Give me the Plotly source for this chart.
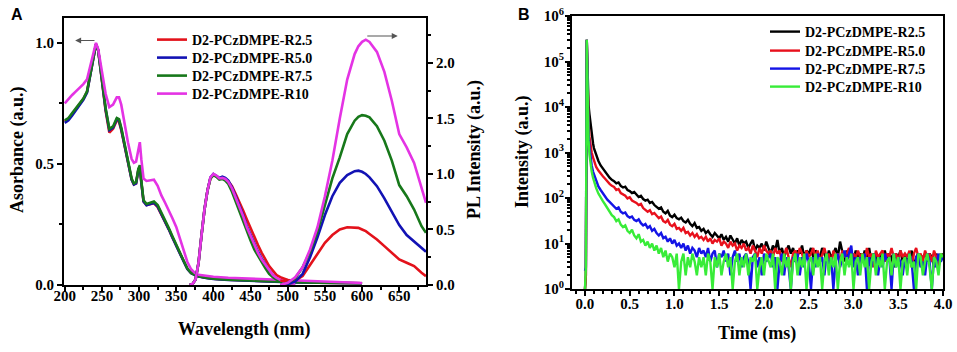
import plotly.graph_objects as go

# ---------------- Panel A data ----------------
labels = ["D2-PCzDMPE-R2.5", "D2-PCzDMPE-R5.0", "D2-PCzDMPE-R7.5", "D2-PCzDMPE-R10"]

abs_wl = [200, 205, 210, 215, 220, 225, 230, 235, 240,
          242, 245, 250, 255, 260, 265, 270,
          273, 276, 280, 285, 290,
          293, 296, 299, 301, 303, 306, 310,
          315, 320, 325, 330, 335, 340, 345, 350, 355, 360, 365, 370, 375, 380,
          390, 400, 420, 450, 480, 510, 540, 570, 600]
abs_r25 = [0.675, 0.685, 0.705, 0.725, 0.748, 0.768, 0.798, 0.878, 0.97,
           0.995, 0.97, 0.845, 0.72, 0.63, 0.645, 0.68,
           0.675, 0.64, 0.58, 0.51, 0.435,
           0.415, 0.42, 0.475, 0.49, 0.425, 0.345, 0.33,
           0.335, 0.338, 0.322, 0.293, 0.26, 0.23, 0.195, 0.162, 0.132, 0.098, 0.067, 0.05, 0.042, 0.036,
           0.03, 0.026, 0.022, 0.018, 0.014, 0.012, 0.01, 0.008, 0.007]
abs_r50 = [0.67, 0.68, 0.70, 0.72, 0.745, 0.765, 0.795, 0.875, 0.97,
           0.995, 0.97, 0.85, 0.725, 0.64, 0.65, 0.685,
           0.68, 0.645, 0.585, 0.515, 0.435,
           0.415, 0.42, 0.475, 0.49, 0.425, 0.345, 0.33,
           0.335, 0.34, 0.325, 0.295, 0.26, 0.23, 0.195, 0.16, 0.13, 0.097, 0.066, 0.049, 0.041, 0.035,
           0.029, 0.025, 0.021, 0.017, 0.013, 0.011, 0.009, 0.008, 0.007]
abs_r75 = [0.68, 0.69, 0.71, 0.73, 0.75, 0.77, 0.80, 0.88, 0.97,
           0.995, 0.97, 0.85, 0.73, 0.645, 0.655, 0.69,
           0.685, 0.65, 0.59, 0.52, 0.44,
           0.42, 0.425, 0.48, 0.495, 0.43, 0.35, 0.335,
           0.34, 0.345, 0.33, 0.30, 0.265, 0.235, 0.20, 0.165, 0.135, 0.10, 0.068, 0.05, 0.042, 0.036,
           0.03, 0.026, 0.022, 0.018, 0.014, 0.012, 0.010, 0.008, 0.007]
abs_r10 = [0.75, 0.77, 0.785, 0.80, 0.815, 0.83, 0.85, 0.91, 0.98,
           1.0, 0.975, 0.88, 0.79, 0.735, 0.745, 0.775,
           0.775, 0.745, 0.67, 0.59, 0.52,
           0.505, 0.51, 0.57, 0.59, 0.52, 0.44, 0.43,
           0.432, 0.435, 0.41, 0.37, 0.34, 0.31, 0.275, 0.24, 0.19, 0.14, 0.095, 0.065, 0.05, 0.042,
           0.037, 0.034, 0.03, 0.026, 0.022, 0.018, 0.014, 0.01, 0.008]

exc_wl = [368, 372, 376, 380, 384, 388, 392, 396, 400, 404, 408, 412, 416, 420,
          425, 430, 435, 440, 445, 450, 455, 460, 465, 470, 475, 480, 485, 490, 495, 500, 505, 510]
exc_r25 = [0.0, 0.01, 0.05, 0.2, 0.45, 0.68, 0.85, 0.96, 0.99, 0.98, 0.96, 0.96, 0.955, 0.935,
           0.89, 0.82, 0.75, 0.67, 0.59, 0.51, 0.43, 0.36, 0.29, 0.23, 0.17, 0.13, 0.09, 0.07, 0.055, 0.045, 0.04, 0.04]
exc_r50 = [0.0, 0.01, 0.05, 0.2, 0.45, 0.68, 0.85, 0.97, 1.0, 0.985, 0.965, 0.975, 0.965, 0.94,
           0.88, 0.8, 0.72, 0.63, 0.53, 0.45, 0.37, 0.3, 0.24, 0.18, 0.13, 0.09, 0.06, 0.04, 0.025, 0.015, 0.01, 0.01]
exc_r75 = [0.0, 0.01, 0.05, 0.2, 0.45, 0.68, 0.85, 0.96, 0.99, 0.975, 0.95, 0.955, 0.94, 0.91,
           0.84, 0.75, 0.66, 0.57, 0.48, 0.4, 0.32, 0.26, 0.2, 0.15, 0.1, 0.07, 0.05, 0.035, 0.025, 0.018, 0.012, 0.01]
exc_r10 = [0.0, 0.01, 0.05, 0.2, 0.45, 0.68, 0.85, 0.97, 1.0, 0.985, 0.96, 0.965, 0.955, 0.93,
           0.87, 0.79, 0.71, 0.62, 0.52, 0.44, 0.36, 0.29, 0.23, 0.18, 0.13, 0.09, 0.065, 0.045, 0.03, 0.02, 0.015, 0.01]

em_wl = [490, 500, 510, 520, 530, 540, 550, 560, 570, 580, 590, 595, 600, 605, 610,
         620, 630, 640, 650, 660, 670, 680, 686]
em_r25 = [0.04, 0.03, 0.04, 0.08, 0.18, 0.28, 0.38, 0.45, 0.5, 0.52, 0.52, 0.515, 0.5, 0.485, 0.46,
          0.41, 0.35, 0.29, 0.23, 0.2, 0.17, 0.11, 0.08]
em_r50 = [0.0, 0.01, 0.03, 0.1, 0.25, 0.43, 0.63, 0.8, 0.92, 0.99, 1.025, 1.03, 1.02, 1.0, 0.97,
          0.89, 0.78, 0.66, 0.54, 0.45, 0.39, 0.33, 0.3]
em_r75 = [0.0, 0.02, 0.06, 0.16, 0.3, 0.48, 0.72, 0.96, 1.15, 1.36, 1.48, 1.515, 1.53, 1.525, 1.51,
          1.43, 1.3, 1.12, 0.9, 0.8, 0.68, 0.53, 0.47]
em_r10 = [0.0, 0.02, 0.07, 0.16, 0.32, 0.52, 0.8, 1.12, 1.5, 1.85, 2.08, 2.15, 2.19, 2.21, 2.19,
          2.1, 1.92, 1.66, 1.36, 1.24, 1.1, 0.86, 0.74]

# ---------------- Panel B data ----------------
t_early = [0.0, 0.01, 0.02, 0.03, 0.04, 0.05, 0.06, 0.075, 0.09, 0.1,
           0.125, 0.15, 0.175, 0.2, 0.225, 0.25, 0.275, 0.3]
t_late = [round(0.325 + 0.025 * k, 3) for k in range(148)]   # sampling grid 0.325 ... 4.0 ms
t_ms = t_early + t_late

dec_r25 = [1, 2, 300000, 25000, 11000, 7000, 4500, 2600, 1600, 1250, 850, 650, 520, 440, 380, 320, 280, 250,
           235, 210, 220, 185, 170, 178, 150, 142, 128, 135,
           118, 105, 112, 95, 88, 92, 78, 82, 70, 64,
           58, 62, 50, 46, 52, 41, 38, 43, 36, 34,
           37, 31, 29, 33, 27, 24, 28, 22, 23, 19,
           21, 17, 19, 16, 14, 17, 15, 13, 16, 12,
           14, 11, 15, 12, 10, 13, 9, 12, 10, 11,
           8, 10, 12, 7, 9, 8, 10, 7, 11, 8,
           6, 9, 7, 12, 6, 8, 5, 7, 9, 6,
           8, 5, 7, 6, 9, 5, 7, 6, 8, 5,
           7, 6, 5, 8, 6, 4, 7, 5, 6, 8,
           5, 11, 6, 4, 7, 5, 6, 4, 7, 5,
           6, 4, 7, 5, 8, 4, 6, 5, 3, 6,
           5, 7, 4, 6, 5, 3, 6, 5, 7, 4,
           6, 4, 5, 7, 3, 5, 6, 4, 5, 6,
           4, 6, 5, 3, 6, 4, 5, 6]
dec_r50 = [1, 2, 300000, 12000, 4500, 2200, 1400, 1000, 780, 650, 480, 400, 340, 300, 265, 230, 205, 185,
           175, 150, 158, 128, 120, 112, 98, 104, 88, 84,
           78, 70, 74, 60, 56, 50, 54, 44, 47, 40,
           36, 39, 31, 29, 33, 26, 24, 27, 21, 22,
           19, 22, 17, 18, 15, 17, 14, 16, 13, 14,
           12, 14, 11, 13, 10, 12, 11, 13, 9, 11,
           10, 8, 11, 9, 10, 7, 9, 8, 10, 7,
           8, 6, 9, 7, 5, 8, 6, 9, 7, 6,
           7, 5, 8, 6, 7, 4, 6, 8, 5, 3,
           6, 7, 5, 8, 6, 4, 7, 5, 6, 8,
           5, 7, 4, 6, 8, 5, 6, 3, 7, 5,
           6, 4, 7, 5, 6, 8, 4, 6, 5, 7,
           5, 6, 4, 8, 5, 6, 3, 7, 5, 6,
           7, 4, 6, 5, 8, 5, 6, 4, 7, 5,
           6, 5, 7, 3, 6, 8, 5, 6, 4, 7,
           5, 6, 4, 7, 5, 3, 6, 5]
dec_r75 = [2.5, 3, 300000, 8000, 2500, 1300, 800, 520, 380, 330, 230, 180, 150, 125, 105, 92, 82, 72,
           66, 58, 62, 50, 46, 48, 40, 37, 39, 33,
           31, 34, 28, 25, 27, 22, 24, 19, 21, 17,
           15, 17, 13, 14, 11, 13, 10, 12, 9, 10,
           8, 10, 7, 9, 6, 8, 7, 5, 8, 6,
           7, 5, 8, 4, 6, 7, 3, 6, 5, 7,
           4, 6, 2, 5, 7, 4, 6, 3, 5, 6,
           4, 1, 5, 6, 3, 5, 2, 6, 4, 5,
           6, 3, 5, 1, 4, 6, 2, 5, 3, 1,
           5, 4, 6, 2, 5, 3, 6, 4, 1, 5,
           3, 6, 4, 5, 2, 6, 3, 5, 1, 4,
           6, 3, 5, 7, 4, 6, 9, 3, 5, 2,
           5, 4, 6, 1, 5, 3, 6, 4, 2, 5,
           3, 6, 4, 5, 1, 6, 3, 5, 4, 2,
           5, 3, 6, 4, 1, 5, 6, 3, 4, 2,
           6, 4, 1, 5, 3, 6, 4, 5]
dec_r10 = [1, 3, 300000, 6000, 1800, 900, 560, 380, 280, 230, 165, 125, 100, 85, 72, 60, 50, 42,
           38, 31, 34, 26, 23, 25, 19, 17, 20, 15,
           13, 16, 11, 12, 9, 11, 8, 10, 7, 9,
           6, 8, 5, 7, 4, 6, 5, 3, 6, 1,
           4, 6, 2, 5, 3, 6, 4, 2, 5, 3,
           5, 2, 6, 4, 1, 5, 3, 6, 2, 4,
           6, 3, 5, 1, 4, 6, 2, 5, 3, 6,
           2, 5, 4, 6, 1, 3, 5, 2, 6, 4,
           3, 6, 1, 5, 4, 2, 6, 3, 5, 1,
           4, 6, 2, 5, 3, 6, 1, 4, 5, 2,
           6, 3, 5, 1, 4, 6, 2, 5, 3, 6,
           1, 4, 6, 2, 5, 3, 6, 1, 4, 5,
           2, 6, 3, 5, 1, 4, 6, 2, 5, 3,
           6, 1, 4, 5, 2, 6, 3, 5, 1, 4,
           5, 2, 6, 3, 4, 1, 6, 5, 2, 4,
           6, 3, 1, 5, 4, 2, 6, 5]

y_tick_vals = [1, 10, 100, 1000, 10000, 100000, 1000000]
y_tick_text = ["10<sup>0</sup>", "10<sup>1</sup>", "10<sup>2</sup>", "10<sup>3</sup>",
               "10<sup>4</sup>", "10<sup>5</sup>", "10<sup>6</sup>"]

# ---------------- styling ----------------
SERIF = "Liberation Serif, Times New Roman, serif"
SANS = "Liberation Sans, Arial, sans-serif"
colors_a = ["#e3121b", "#1212b4", "#17781a", "#e433e4"]
colors_b = ["#000000", "#e8101c", "#1414e6", "#38ec38"]
W, H = 957, 352

fig = go.Figure()

abs_sets = [abs_r25, abs_r50, abs_r75, abs_r10]
exc_sets = [exc_r25, exc_r50, exc_r75, exc_r10]
em_sets = [em_r25, em_r50, em_r75, em_r10]
legend_ids_a = ["legend", "legend2", "legend3", "legend4"]
legend_ids_b = ["legend5", "legend6", "legend7", "legend8"]

for i in range(4):
    fig.add_trace(go.Scatter(x=abs_wl, y=abs_sets[i], xaxis="x", yaxis="y", mode="lines",
                             line=dict(color=colors_a[i], width=2.6), name=labels[i],
                             legend=legend_ids_a[i], showlegend=True))
for i in range(4):
    fig.add_trace(go.Scatter(x=exc_wl, y=exc_sets[i], xaxis="x", yaxis="y2", mode="lines",
                             line=dict(color=colors_a[i], width=2.6), name=labels[i], showlegend=False))
for i in range(4):
    fig.add_trace(go.Scatter(x=em_wl, y=em_sets[i], xaxis="x", yaxis="y2", mode="lines",
                             line=dict(color=colors_a[i], width=2.6), name=labels[i], showlegend=False))

dec_sets = [dec_r25, dec_r50, dec_r75, dec_r10]
for i in range(4):
    fig.add_trace(go.Scatter(x=t_ms, y=dec_sets[i], xaxis="x2", yaxis="y3", mode="lines",
                             line=dict(color=colors_b[i], width=2.4), name=labels[i],
                             legend=legend_ids_b[i], showlegend=True))

tickfont = dict(family=SERIF, size=15, color="black", weight="bold")
common = dict(showline=True, linewidth=2, linecolor="black", showgrid=False, zeroline=False,
              ticks="outside", ticklen=5, tickwidth=2, tickcolor="black", tickfont=tickfont,
              automargin=False)
minor_style = dict(ticks="outside", ticklen=3, tickwidth=1.5, tickcolor="black")

minor_log_vals = [m * 10 ** e for e in range(0, 6) for m in range(2, 10)]

layout = dict(
    width=W, height=H, margin=dict(l=0, r=0, t=0, b=0),
    paper_bgcolor="white", plot_bgcolor="white",
    xaxis=dict(domain=[64 / W, 426 / W], range=[199, 686], anchor="y", tick0=200, dtick=50,
               mirror=True, ticklabelstandoff=-9, minor=dict(dtick=25, **minor_style), **common),
    yaxis=dict(domain=[1 - 285 / H, 1 - 18 / H], range=[0, 1.103], anchor="x", tick0=0, dtick=0.5,
               tickformat=".1f", minor=dict(dtick=0.25, **minor_style), **common),
    yaxis2=dict(overlaying="y", side="right", anchor="x", range=[0, 2.405], tick0=0, dtick=0.5,
                tickformat=".1f", minor=dict(dtick=0.25, **minor_style), **common),
    xaxis2=dict(domain=[572 / W, 943 / W], range=[-0.145, 4.0], anchor="y3", tick0=0, dtick=0.5,
                tickformat=".1f", mirror=True, ticklabelstandoff=-5,
                minor=dict(dtick=0.1, **minor_style), **common),
    yaxis3=dict(domain=[1 - 289 / H, 1 - 16 / H], type="log", range=[0, 6], anchor="x2",
                tickmode="array", tickvals=y_tick_vals, ticktext=y_tick_text, mirror=True,
                ticklabelstandoff=-2,
                minor=dict(tickmode="array", tickvals=minor_log_vals, **minor_style), **common),
)

legend_font = dict(family=SERIF, size=14, color="black", weight="bold")
rows_a = [40, 58, 76, 94]
rows_b = [32, 51, 69, 87]
for i in range(4):
    layout[legend_ids_a[i]] = dict(x=152 / W, xanchor="left", y=1 - rows_a[i] / H, yanchor="middle",
                                   bgcolor="rgba(0,0,0,0)", borderwidth=0, font=legend_font,
                                   itemwidth=30)
    layout[legend_ids_b[i]] = dict(x=765 / W, xanchor="left", y=1 - rows_b[i] / H, yanchor="middle",
                                   bgcolor="rgba(0,0,0,0)", borderwidth=0, font=legend_font,
                                   itemwidth=30)
fig.update_layout(**layout)

title_font = dict(family=SERIF, size=18, color="black", weight="bold")
def ptext(text, px, py, font, angle=0):
    return dict(text=text, x=px / W, y=1 - py / H, xref="paper", yref="paper",
                xanchor="center", yanchor="middle", showarrow=False, textangle=angle, font=font)

panel_font = dict(family=SANS, size=16, color="black", weight="bold")
ann = [
    ptext("A", 17, 15, panel_font),
    ptext("B", 524, 15, panel_font),
    ptext("Wavelength (nm)", 244, 329, title_font),
    ptext("Asorbance (a.u.)", 17, 150, title_font, -90),
    ptext("PL Intensity (a.u.)", 474, 150, title_font, -90),
    ptext("Intensity (a.u.)", 522, 152, title_font, -90),
    ptext("Time (ms)", 757, 333, title_font),
    # direction arrows
    dict(text="", x=214, y=1.01, ax=242, ay=1.01, xref="x", yref="y", axref="x", ayref="y",
         showarrow=True, arrowhead=2, arrowsize=1, arrowwidth=1.2, arrowcolor="#555555"),
    dict(text="", x=648, y=2.243, ax=605, ay=2.243, xref="x", yref="y2", axref="x", ayref="y2",
         showarrow=True, arrowhead=2, arrowsize=1, arrowwidth=1.2, arrowcolor="#555555"),
]
fig.update_layout(annotations=ann)

fig.write_html("out.html", config={"displayModeBar": False},
               post_script="document.body.style.margin='0px';")
